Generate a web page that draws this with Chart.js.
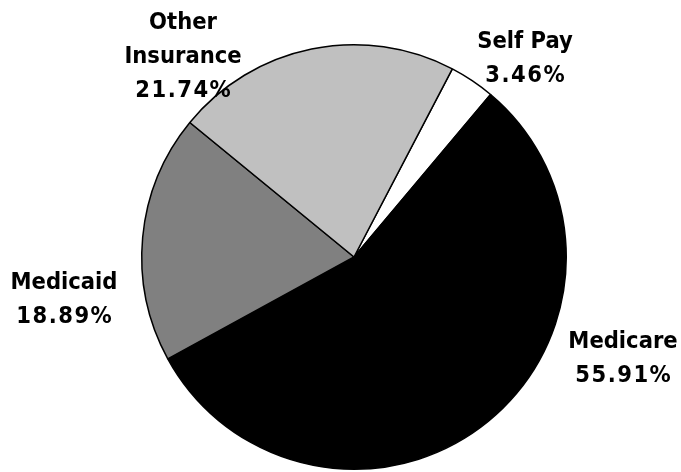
<!DOCTYPE html>
<html>
<head>
<meta charset="utf-8">
<script src="https://cdn.jsdelivr.net/npm/chart.js@4/dist/chart.umd.min.js"></script>
<style>
html,body{margin:0;padding:0;background:#fff;}
#wrap{width:681px;height:472px;position:relative;}
</style>
</head>
<body>
<div id="wrap"><canvas id="c" width="681" height="472"></canvas></div>
<script>
const categories = ["Self Pay", "Medicare", "Medicaid", "Other Insurance"];
const values = [3.46, 55.91, 18.89, 21.74];
const labelLines = [["Self Pay", "3.46%"], ["Medicare", "55.91%"], ["Medicaid", "18.89%"], ["Other", "Insurance", "21.74%"]];
const colors = ["#ffffff", "#000000", "#808080", "#c0c0c0"];

// label anchor (center x, first-line baseline y), in pixels
const labelAnchors = [[525, 48], [623, 348], [64, 289], [183, 29]];
const lineHeight = 34;

const labelPlugin = {
  id: 'labels',
  afterDraw(chart) {
    const ctx = chart.ctx;
    ctx.save();
    ctx.font = 'bold 23.5px "DejaVu Sans Condensed", "DejaVu Sans", sans-serif';
    ctx.fillStyle = '#000';
    ctx.textAlign = 'center';
    ctx.textBaseline = 'alphabetic';
    labelLines.forEach((lines, i) => {
      const [x, y] = labelAnchors[i];
      lines.forEach((t, j) => {
        const isNum = /%$/.test(t);
        ctx.letterSpacing = isNum ? '1.5px' : '0px';
        ctx.fillText(t, x + (isNum ? 0.75 : 0), y + j * lineHeight);
      });
    });
    ctx.restore();
  }
};

new Chart(document.getElementById('c'), {
  type: 'pie',
  data: {
    labels: categories,
    datasets: [{
      data: values,
      backgroundColor: colors,
      borderColor: '#000',
      borderWidth: 1.5
    }]
  },
  options: {
    responsive: false,
    animation: false,
    rotation: 27.6,
    layout: { padding: { top: 43, bottom: 1, left: 141, right: 114 } },
    plugins: { legend: { display: false }, tooltip: { enabled: false } }
  },
  plugins: [labelPlugin]
});
</script>
</body>
</html>
